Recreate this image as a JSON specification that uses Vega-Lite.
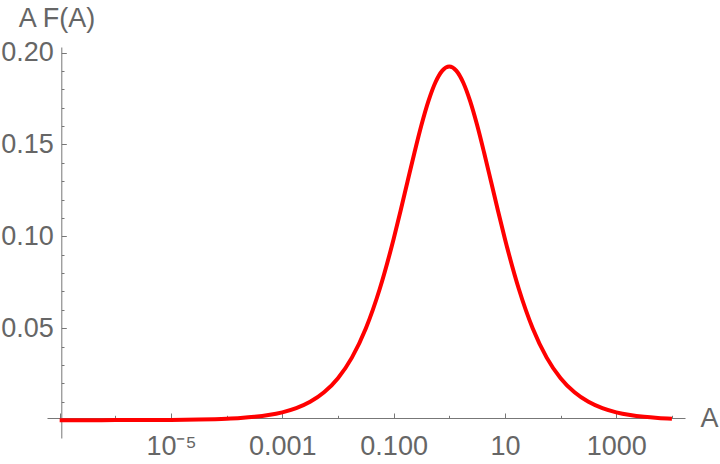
{
  "$schema": "https://vega.github.io/schema/vega-lite/v6.json",
  "width": 638,
  "height": 391,
  "autosize": "none",
  "padding": {"left": 47, "top": 47, "right": 35, "bottom": 26},
  "background": "white",
  "config": {
    "view": {"stroke": null},
    "axis": {"labelFont": "Liberation Sans", "titleFont": "Liberation Sans", "labelColor": "#666666", "titleColor": "#666666", "domainColor": "#777777", "tickColor": "#777777", "grid": false, "labelFontSize": 27, "titleFontSize": 27, "titleFontWeight": "normal"}
  },
  "data": {
    "values": [
      {"A": 1e-7, "y": 0.0000043},
      {"A": 3.1623e-7, "y": 0.0000102},
      {"A": 1e-6, "y": 0.0000242},
      {"A": 3.1623e-6, "y": 0.0000574},
      {"A": 1e-5, "y": 0.000136},
      {"A": 3.1623e-5, "y": 0.000323},
      {"A": 1e-4, "y": 0.000765},
      {"A": 1.7783e-4, "y": 0.001177},
      {"A": 3.1623e-4, "y": 0.00181},
      {"A": 5.6234e-4, "y": 0.00278},
      {"A": 0.001, "y": 0.004266},
      {"A": 0.0017783, "y": 0.00653},
      {"A": 0.0031623, "y": 0.00997},
      {"A": 0.0056234, "y": 0.01514},
      {"A": 0.01, "y": 0.02282},
      {"A": 0.017783, "y": 0.03402},
      {"A": 0.031623, "y": 0.04987},
      {"A": 0.056234, "y": 0.07135},
      {"A": 0.1, "y": 0.09858},
      {"A": 0.13335, "y": 0.11391},
      {"A": 0.17783, "y": 0.12982},
      {"A": 0.23714, "y": 0.1456},
      {"A": 0.31623, "y": 0.16054},
      {"A": 0.4217, "y": 0.17353},
      {"A": 0.56234, "y": 0.18369},
      {"A": 0.74989, "y": 0.19017},
      {"A": 1, "y": 0.1924},
      {"A": 1.33352, "y": 0.19017},
      {"A": 1.77828, "y": 0.18369},
      {"A": 2.37137, "y": 0.17353},
      {"A": 3.16228, "y": 0.16054},
      {"A": 4.21697, "y": 0.1456},
      {"A": 5.62341, "y": 0.12982},
      {"A": 7.49894, "y": 0.11391},
      {"A": 10, "y": 0.09858},
      {"A": 17.7828, "y": 0.07135},
      {"A": 31.6228, "y": 0.04987},
      {"A": 56.2341, "y": 0.03402},
      {"A": 100, "y": 0.02282},
      {"A": 177.828, "y": 0.01514},
      {"A": 316.228, "y": 0.00997},
      {"A": 562.341, "y": 0.00653},
      {"A": 1000, "y": 0.004266},
      {"A": 1778.28, "y": 0.00278},
      {"A": 3162.28, "y": 0.00181},
      {"A": 5623.41, "y": 0.001177},
      {"A": 10000, "y": 0.000765}
    ]
  },
  "layer": [
    {
      "mark": {"type": "point", "opacity": 0},
      "encoding": {
        "x": {"field": "A", "type": "quantitative", "scale": {"type": "log", "domain": [5.92e-8, 17180], "nice": false},
          "axis": {"orient": "bottom", "offset": -20, "values": [1e-6, 1e-4, 0.01, 1, 100, 10000], "labels": false, "domain": false, "tickSize": -2.7, "title": null}},
        "y": {"field": "y", "type": "quantitative", "scale": {"domain": [-0.0097, 0.203], "nice": false, "zero": false},
          "axis": {"orient": "left", "offset": -14.3, "values": [0.01, 0.02, 0.03, 0.04, 0.06, 0.07, 0.08, 0.09, 0.11, 0.12, 0.13, 0.14, 0.16, 0.17, 0.18, 0.19], "labels": false, "domain": false, "tickSize": -2.7, "title": null}}
      }
    },
    {
      "mark": {"type": "line", "color": "#ff0000", "strokeWidth": 4, "interpolate": "monotone", "clip": false},
      "encoding": {
        "x": {"field": "A", "type": "quantitative",
          "axis": {"orient": "bottom", "offset": -20, "values": [1e-7, 1e-5, 0.001, 0.1, 10, 1000], "tickSize": -5, "labelPadding": 20,
            "labelExpr": "datum.value < 1e-6 ? '' : datum.value < 1e-4 ? '10⁻⁵' : datum.value < 0.01 ? '0.001' : datum.value < 1 ? '0.100' : datum.value < 100 ? '10' : '1000'",
            "title": "A", "titleAngle": 0, "titleAlign": "left", "titleBaseline": "alphabetic", "titleX": 653, "titleY": 8.4}},
        "y": {"field": "y", "type": "quantitative",
          "axis": {"orient": "left", "offset": -14.3, "values": [0.05, 0.1, 0.15, 0.2], "format": ".2f", "tickSize": -5, "labelPadding": 13,
            "title": "A F(A)", "titleAngle": 0, "titleAlign": "left", "titleBaseline": "alphabetic", "titleX": -43, "titleY": -21}}
      }
    }
  ],
  "resolve": {"axis": {"x": "independent", "y": "independent"}}
}
